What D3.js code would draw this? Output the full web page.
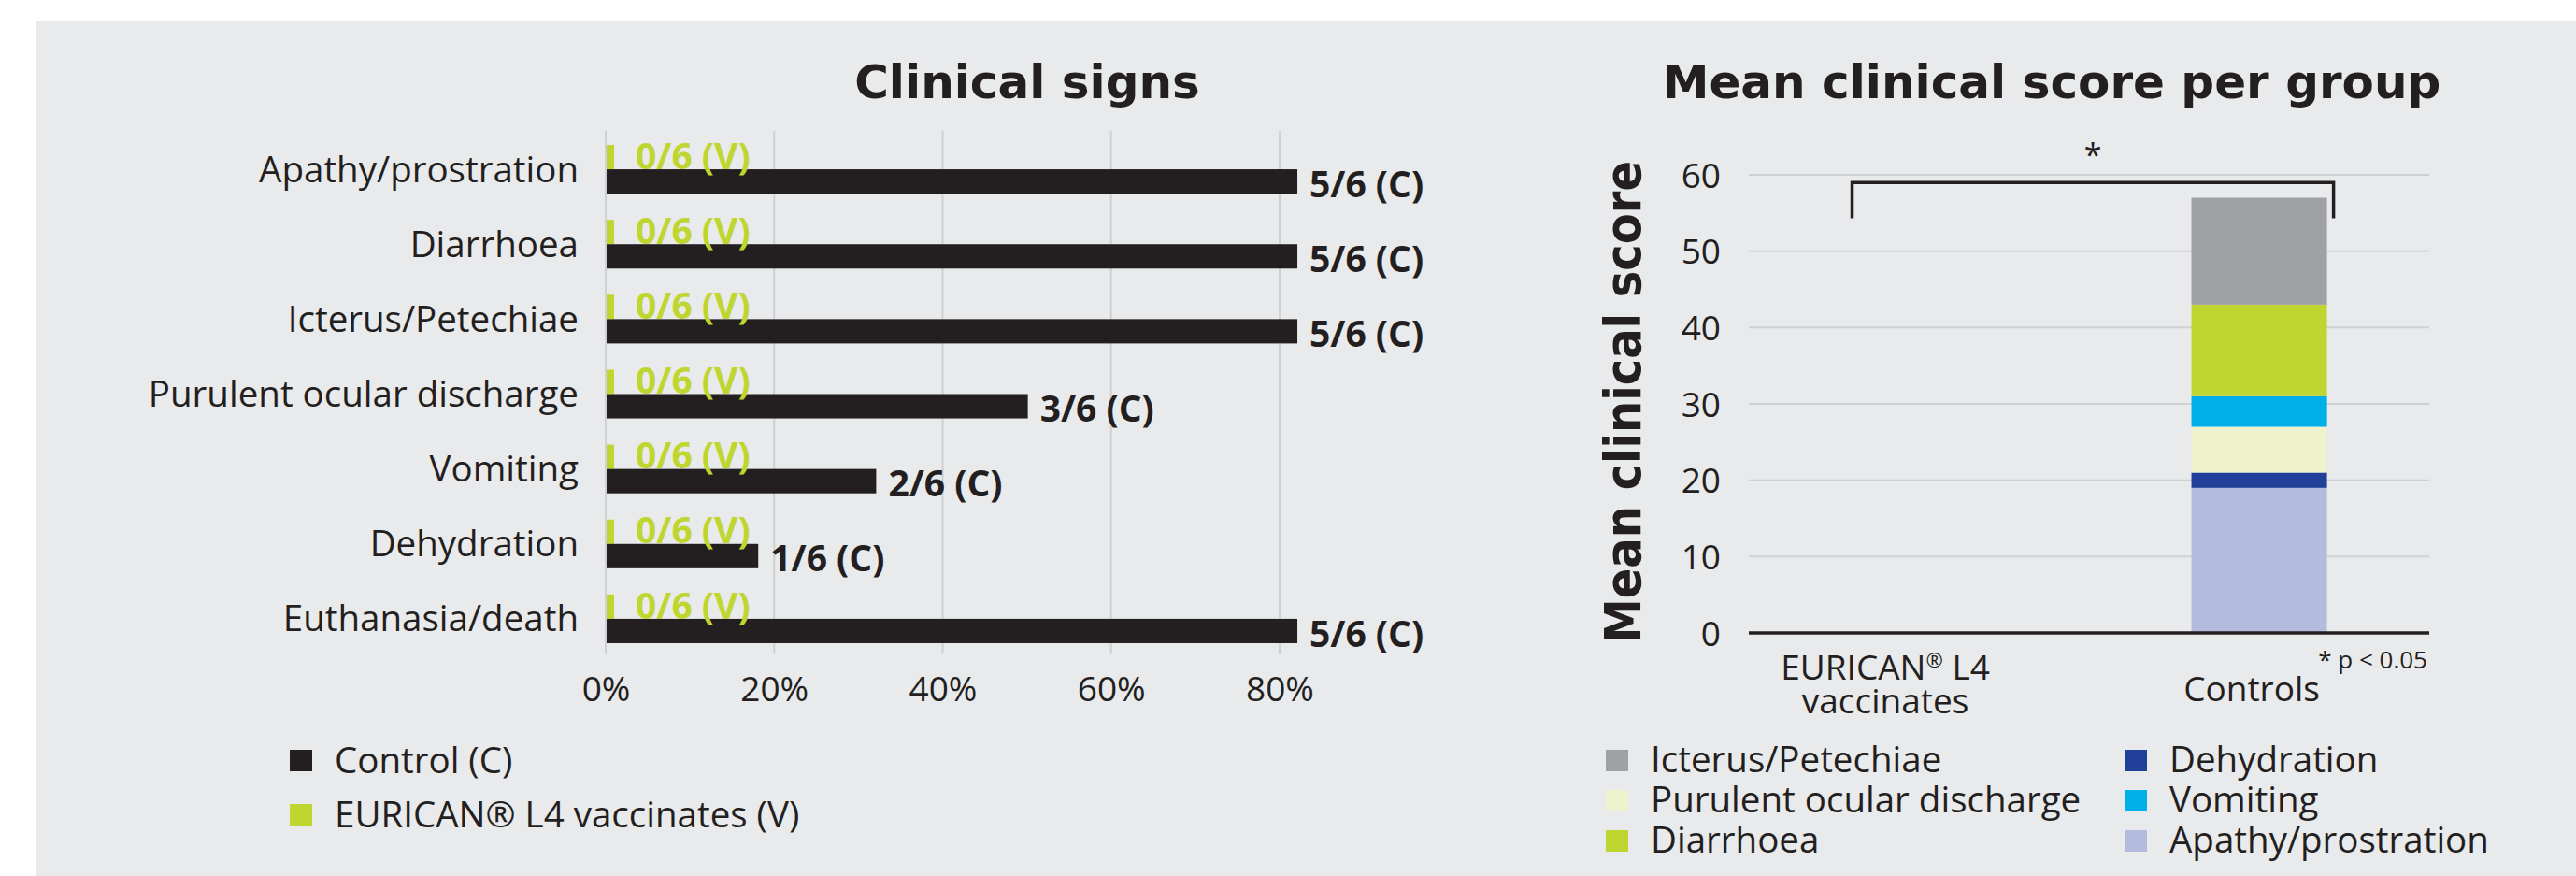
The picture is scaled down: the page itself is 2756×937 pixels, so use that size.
<!DOCTYPE html>
<html>
<head>
<meta charset="utf-8">
<script src="https://cdn.jsdelivr.net/npm/d3@7"></script>
<style>
  html, body { margin: 0; padding: 0; background: #ffffff; }
  svg text { font-family: "Open Sans", Lato, sans-serif; fill: #231f20; }
</style>
</head>
<body>
<svg id="chart"></svg>
<script>
// ---- data ----
const signs = ["Apathy/prostration", "Diarrhoea", "Icterus/Petechiae", "Purulent ocular discharge", "Vomiting", "Dehydration", "Euthanasia/death"];
const controlPct = [82, 82, 82, 50, 32, 18, 82];
const vaccinePct = [0, 0, 0, 0, 0, 0, 0];
const controlLabels = ["5/6 (C)", "5/6 (C)", "5/6 (C)", "3/6 (C)", "2/6 (C)", "1/6 (C)", "5/6 (C)"];
const vaccineLabels = ["0/6 (V)", "0/6 (V)", "0/6 (V)", "0/6 (V)", "0/6 (V)", "0/6 (V)", "0/6 (V)"];
const pctTicks = [0, 20, 40, 60, 80];

const groups = ["EURICAN® L4 vaccinates", "Controls"];
const scoreKeys = ["Apathy/prostration", "Dehydration", "Purulent ocular discharge", "Vomiting", "Diarrhoea", "Icterus/Petechiae"];
const vaccineScores = [0, 0, 0, 0, 0, 0];
const controlScores = [19, 2, 6, 4, 12, 14];
const scoreTicks = [0, 10, 20, 30, 40, 50, 60];
const legendOrder = ["Icterus/Petechiae", "Purulent ocular discharge", "Diarrhoea", "Dehydration", "Vomiting", "Apathy/prostration"];

const colors = {
  "Apathy/prostration": "#b3bcdc",
  "Dehydration": "#21409a",
  "Purulent ocular discharge": "#eef3cd",
  "Vomiting": "#00aeea",
  "Diarrhoea": "#bed62f",
  "Icterus/Petechiae": "#a0a1a4"
};
const dark = "#231f20";
const lime = "#bfd630";
const grid = "#cfd0d2";
const titleFont = "'DejaVu Sans', sans-serif";

const W = 2756, H = 937;
const svg = d3.select("#chart").attr("width", W).attr("height", H);

svg.append("rect").attr("x", 38).attr("y", 22).attr("width", W - 38).attr("height", H - 22).attr("fill", "#e9eaec");

// ================= left chart: clinical signs =================
const left = svg.append("g");

const x = d3.scaleLinear().domain([0, 80]).range([648, 1369]);
const y = d3.scaleBand().domain(signs).range([141, 702]).paddingInner(0.35).paddingOuter(0.175);
const ySub = d3.scaleBand().domain(["V", "C"]).range([0, y.bandwidth()]);

left.append("text")
  .attr("x", 1099).attr("y", 105)
  .attr("text-anchor", "middle")
  .style("font-family", titleFont)
  .style("font-size", "50px").style("font-weight", 700)
  .text("Clinical signs");

// gridlines
left.selectAll("line.grid")
  .data(pctTicks)
  .join("line")
  .attr("class", "grid")
  .attr("x1", d => x(d)).attr("x2", d => x(d))
  .attr("y1", 140).attr("y2", 700)
  .attr("stroke", grid).attr("stroke-width", 2);

// x axis labels
const xAxis = d3.axisBottom(x).tickValues(pctTicks).tickSize(0).tickPadding(0).tickFormat(d => d + "%");
left.append("g")
  .attr("transform", "translate(0,724)")
  .call(xAxis)
  .call(g => g.select(".domain").remove())
  .selectAll("text")
  .attr("dy", 0).attr("y", 26)
  .style("font-size", "37px").style("font-family", "'Open Sans', sans-serif").attr("fill", dark);

// category labels
left.selectAll("text.cat")
  .data(signs)
  .join("text")
  .attr("class", "cat")
  .attr("x", 619)
  .attr("y", d => y(d) + y.bandwidth() / 2)
  .attr("dy", "0.35em")
  .attr("text-anchor", "end")
  .style("font-size", "38.5px")
  .text(d => d);

const rows = signs.map((s, i) => ({ sign: s, c: controlPct[i], v: vaccinePct[i], cl: controlLabels[i], vl: vaccineLabels[i] }));

// vaccinate bars (0% shown as a small stub)
left.selectAll("rect.vac")
  .data(rows)
  .join("rect")
  .attr("class", "vac")
  .attr("x", x(0) + 1)
  .attr("y", d => y(d.sign) + ySub("V"))
  .attr("width", d => Math.max(x(d.v) - x(0), 8))
  .attr("height", ySub.bandwidth())
  .attr("fill", lime);

left.selectAll("rect.ctl")
  .data(rows)
  .join("rect")
  .attr("class", "ctl")
  .attr("x", x(0) + 1)
  .attr("y", d => y(d.sign) + ySub("C"))
  .attr("width", d => x(d.c) - x(0))
  .attr("height", ySub.bandwidth())
  .attr("fill", dark);

left.selectAll("text.vl")
  .data(rows)
  .join("text")
  .attr("class", "vl")
  .attr("x", d => x(d.v) + 32)
  .attr("y", d => y(d.sign) + ySub("V") + ySub.bandwidth() / 2 - 1)
  .attr("dy", "0.35em")
  .style("font-size", "39px").style("font-weight", 700)
  .style("fill", lime)
  .text(d => d.vl);

left.selectAll("text.cl")
  .data(rows)
  .join("text")
  .attr("class", "cl")
  .attr("x", d => x(d.c) + 14)
  .attr("y", d => y(d.sign) + ySub("C") + ySub.bandwidth() / 2 + 3)
  .attr("dy", "0.35em")
  .style("font-size", "39px").style("font-weight", 700)
  .text(d => d.cl);

// legend
const leftLegend = [{ name: "Control (C)", color: dark }, { name: "EURICAN® L4 vaccinates (V)", color: lime }];
const ll = left.selectAll("g.leg")
  .data(leftLegend)
  .join("g")
  .attr("class", "leg")
  .attr("transform", (d, i) => `translate(310, ${802 + i * 58})`);
ll.append("rect").attr("width", 24).attr("height", 23).attr("fill", d => d.color);
ll.append("text").attr("x", 48).attr("y", 25)
  .style("font-size", "38.5px")
  .text(d => d.name);

// ================= right chart: mean clinical score =================
const right = svg.append("g");

const yS = d3.scaleLinear().domain([0, 60]).range([677, 187]);
const xG = d3.scaleBand().domain(groups).range([1871, 2599]).paddingInner(0.63).paddingOuter(0.2435).align(0.427);

right.append("text")
  .attr("x", 2195).attr("y", 105)
  .attr("text-anchor", "middle")
  .style("font-family", titleFont)
  .style("font-size", "50px").style("font-weight", 700)
  .text("Mean clinical score per group");

// y title
right.append("text")
  .attr("transform", "translate(1755,430) rotate(-90)")
  .attr("text-anchor", "middle")
  .attr("textLength", 516).attr("lengthAdjust", "spacingAndGlyphs")
  .style("font-family", titleFont)
  .style("font-size", "54px").style("font-weight", 700)
  .text("Mean clinical score");

// gridlines
right.selectAll("line.grid")
  .data(scoreTicks.slice(1))
  .join("line")
  .attr("class", "grid")
  .attr("x1", 1871).attr("x2", 2599)
  .attr("y1", d => yS(d)).attr("y2", d => yS(d))
  .attr("stroke", grid).attr("stroke-width", 2);

const yAxis = d3.axisLeft(yS).tickValues(scoreTicks).tickSize(0).tickPadding(0);
right.append("g")
  .attr("transform", "translate(1841,0)")
  .call(yAxis)
  .call(g => g.select(".domain").remove())
  .selectAll("text")
  .attr("x", 0).attr("dy", "0.36em")
  .style("font-size", "37px").style("font-family", "'Open Sans', sans-serif").attr("fill", dark);

// stacked bars
const table = groups.map((g, gi) => {
  const row = { group: g };
  scoreKeys.forEach((k, ki) => { row[k] = gi === 0 ? vaccineScores[ki] : controlScores[ki]; });
  return row;
});
const series = d3.stack().keys(scoreKeys)(table);

right.selectAll("g.series")
  .data(series)
  .join("g")
  .attr("class", "series")
  .attr("fill", d => colors[d.key])
  .selectAll("rect")
  .data(d => d)
  .join("rect")
  .attr("x", d => xG(d.data.group))
  .attr("width", xG.bandwidth())
  .attr("y", d => yS(d[1]))
  .attr("height", d => yS(d[0]) - yS(d[1]));

// baseline
right.append("line")
  .attr("x1", 1871).attr("x2", 2599)
  .attr("y1", yS(0)).attr("y2", yS(0))
  .attr("stroke", dark).attr("stroke-width", 3.5);

// significance bracket
const bx1 = xG(groups[0]) + xG.bandwidth() * 0.2;
const bx2 = xG(groups[1]) + xG.bandwidth() + 7;
right.append("path")
  .attr("d", `M${bx1},${yS(54.3)}V${yS(59)}H${bx2}V${yS(54.3)}`)
  .attr("fill", "none").attr("stroke", dark).attr("stroke-width", 3.5);
right.append("text")
  .attr("x", (bx1 + bx2) / 2).attr("y", 178)
  .attr("text-anchor", "middle")
  .style("font-size", "34px")
  .text("*");

// group labels
const gx0 = xG(groups[0]) + xG.bandwidth() / 2 - 8;
right.append("text")
  .attr("x", gx0).attr("y", 727)
  .attr("text-anchor", "middle")
  .style("font-size", "37px")
  .call(t => {
    t.append("tspan").text("EURICAN");
    t.append("tspan").text("®").style("font-size", "22px").attr("dy", -13);
    t.append("tspan").text(" L4").attr("dy", 13);
  });
right.append("text")
  .attr("x", gx0).attr("y", 763)
  .attr("text-anchor", "middle")
  .style("font-size", "37px")
  .text("vaccinates");
right.append("text")
  .attr("x", xG(groups[1]) + xG.bandwidth() / 2 - 8).attr("y", 750)
  .attr("text-anchor", "middle")
  .style("font-size", "37px")
  .text("Controls");
right.append("text")
  .attr("x", 2597).attr("y", 715)
  .attr("text-anchor", "end")
  .style("font-size", "26px")
  .text("* p < 0.05");

// legend
const rl = right.selectAll("g.leg")
  .data(legendOrder)
  .join("g")
  .attr("class", "leg")
  .attr("transform", (d, i) => `translate(${i < 3 ? 1718 : 2273}, ${802 + (i % 3) * 43})`);
rl.append("rect").attr("width", 24).attr("height", 23).attr("fill", d => colors[d]);
rl.append("text").attr("x", 48).attr("y", 24)
  .style("font-size", "38.5px")
  .text(d => d);
</script>
</body>
</html>
